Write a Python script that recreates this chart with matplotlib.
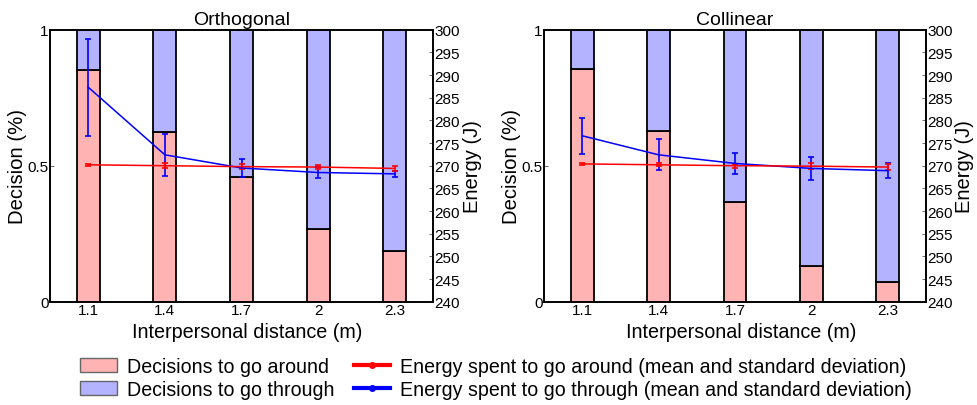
import matplotlib
matplotlib.use("Agg")
import matplotlib.pyplot as plt
import numpy as np
from matplotlib.patches import Patch
from matplotlib.lines import Line2D

plt.rcParams['font.family'] = ['Liberation Sans', 'DejaVu Sans']

distances = ["1.1", "1.4", "1.7", "2", "2.3"]

# Orthogonal
orth_around = [0.852, 0.623, 0.460, 0.267, 0.185]
orth_e_around = [270.2, 270.0, 269.8, 269.7, 269.4]
orth_e_around_sd = [0.2, 0.5, 0.5, 0.5, 0.5]
orth_e_through = [287.3, 272.4, 269.5, 268.5, 268.2]
orth_e_through_sd = [10.7, 4.7, 2.0, 1.2, 0.6]

# Collinear
col_around = [0.855, 0.626, 0.367, 0.131, 0.074]
col_e_around = [270.4, 270.2, 270.0, 269.9, 269.7]
col_e_around_sd = [0.2, 0.3, 0.4, 0.6, 0.7]
col_e_through = [276.6, 272.4, 270.5, 269.4, 268.9]
col_e_through_sd = [4.0, 3.4, 2.3, 2.5, 1.6]

PINK = "#ffb3b3"
LBLUE = "#b3b3ff"

fig = plt.figure(figsize=(9.77, 4.06), dpi=100)

def panel(rect, title, around, ea, ea_sd, et, et_sd):
    ax = fig.add_axes(rect)
    x = np.arange(len(distances))
    around = np.array(around)
    through = 1 - around
    ax.bar(x, around, width=0.3, color=PINK, edgecolor="black", linewidth=1.3, zorder=2)
    ax.bar(x, through, width=0.3, bottom=around, color=LBLUE, edgecolor="black", linewidth=1.3, zorder=2)
    ax.set_xlim(-0.5, 4.5)
    ax.set_ylim(0, 1)
    ax.set_xticks(x)
    ax.set_xticklabels(distances)
    ax.set_yticks([0, 0.5, 1])
    ax.set_yticklabels(["0", "0.5", "1"])
    ax.tick_params(direction="in", length=3, width=0.6, color="#555555", labelsize=11, pad=1)
    ax.set_xlabel("Interpersonal distance (m)", fontsize=14.2)
    ax.xaxis.set_label_coords(0.515, -0.075, transform=ax.transAxes)
    ax.xaxis.label.set_va("top")
    ax.set_ylabel("Decision (%)", fontsize=14.6)
    ax.yaxis.set_label_coords(-0.086, 0.5)
    ax.yaxis.label.set_va("center")
    ax.set_title(title, fontsize=14, pad=4)
    for s in ax.spines.values():
        s.set_linewidth(1.2)
    ax2 = ax.twinx()
    ax2.set_ylim(240, 300)
    ax2.set_yticks(np.arange(240, 301, 5))
    ax2.tick_params(direction="in", length=3, width=0.6, color="#555555", labelsize=11, pad=1)
    ax2.set_ylabel("Energy (J)", fontsize=14.5)
    ax2.yaxis.set_label_coords(1.102, 0.5)
    ax2.yaxis.label.set_va("center")
    ax2.errorbar(x, et, yerr=et_sd, color="#0000ff", lw=1.1, capsize=2.5, elinewidth=1.2, capthick=1.2, zorder=3)
    ax2.errorbar(x, ea, yerr=ea_sd, color="#ff0000", lw=1.1, capsize=2.5, elinewidth=1.2, capthick=1.2, zorder=3)
    for s in ax2.spines.values():
        s.set_linewidth(1.2)
    return ax, ax2

panel([50/977, 1 - 302.7/406, 383/977, 272/406], "Orthogonal",
      orth_around, orth_e_around, orth_e_around_sd, orth_e_through, orth_e_through_sd)
panel([544/977, 1 - 302.7/406, 382/977, 272/406], "Collinear",
      col_around, col_e_around, col_e_around_sd, col_e_through, col_e_through_sd)

h1 = [Patch(facecolor=PINK, edgecolor="#666666"), Patch(facecolor=LBLUE, edgecolor="#666666")]
fig.legend(h1, ["Decisions to go around", "Decisions to go through"], loc="upper left",
           bbox_to_anchor=(62/977, 1 - 340/406), frameon=False, fontsize=14.1,
           handlelength=1.9, handleheight=0.7, handletextpad=0.5, labelspacing=0.2)
h2 = [Line2D([], [], color="#ff0000", lw=3, marker="o", markersize=4),
      Line2D([], [], color="#0000ff", lw=3, marker="o", markersize=4)]
fig.legend(h2, ["Energy spent to go around (mean and standard deviation)",
                "Energy spent to go through (mean and standard deviation)"], loc="upper left",
           bbox_to_anchor=(336/977, 1 - 340/406), frameon=False, fontsize=14.1,
           handlelength=1.88, handletextpad=0.5, labelspacing=0.2)

fig.savefig("out.png", dpi=100)
